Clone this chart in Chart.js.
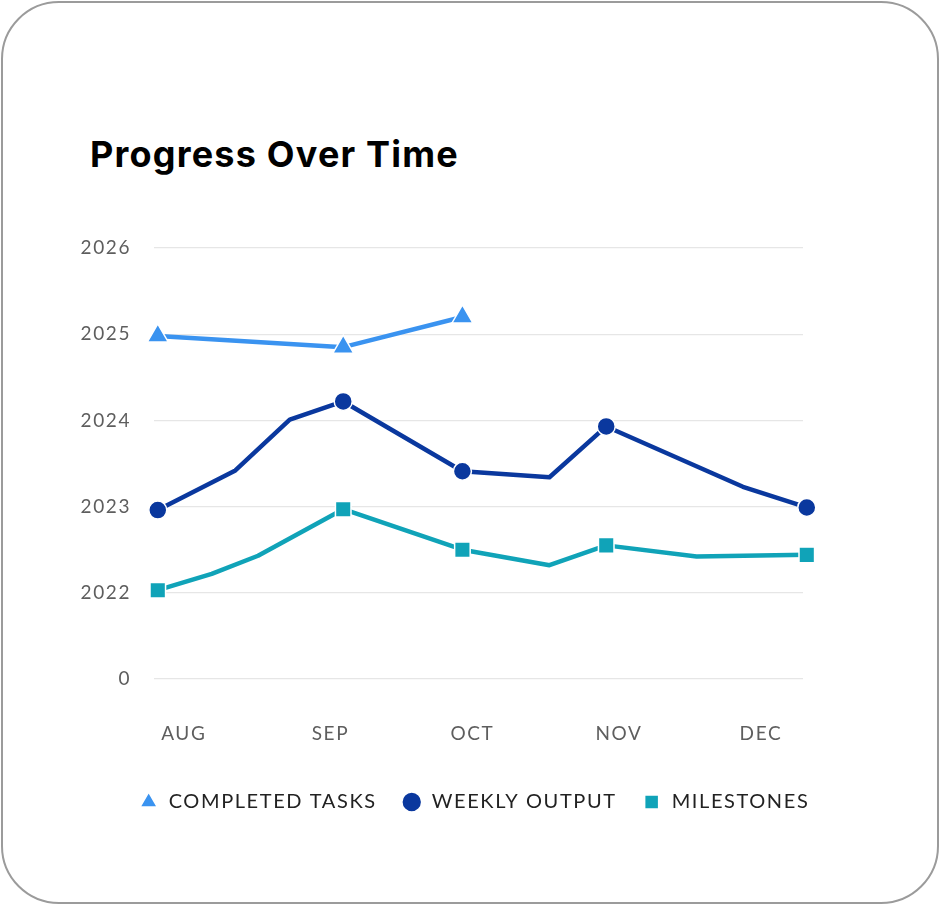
<!DOCTYPE html>
<html><head><meta charset="utf-8">
<script src="https://cdn.jsdelivr.net/npm/chart.js@4.4.1/dist/chart.umd.min.js"></script>
<style>
html,body{margin:0;padding:0;background:#fff;}
#card{position:absolute;left:1px;top:1px;width:934px;height:899px;border:2px solid #9b9b9b;border-radius:58px;}
#title{position:absolute;left:90px;top:136px;font-family:Inter,sans-serif;font-weight:700;font-size:36px;letter-spacing:1.2px;color:#000;margin:0;line-height:1;white-space:nowrap;}
#wrap{position:absolute;left:0;top:0;width:940px;height:905px;}
</style></head>
<body>
<div id="card"></div>
<h1 id="title">Progress Over Time</h1>
<div id="wrap"><canvas id="c"></canvas></div>
<script>
const monthLabels = ['AUG','SEP','OCT','NOV','DEC'];
const monthTickDays = [0, 31, 61, 92, 122];
const yTickLabels = ['0','2022','2023','2024','2025','2026'];
const seriesNames = ['COMPLETED TASKS','WEEKLY OUTPUT','MILESTONES'];
const markerDays = [-5.5, 33.7, 58.9, 89.3, 131.7];
const completedDays = [-5.5, 33.7, 58.9];
const completedValues = [3.98, 3.85, 4.20];
const weeklyDays = [-5.5, 10.9, 22.4, 33.7, 58.9, 77.3, 89.3, 118.2, 131.7];
const weeklyValues = [1.96, 2.42, 3.01, 3.22, 2.41, 2.34, 2.93, 2.23, 1.99];
const milestoneDays = [-5.5, 5.9, 15.7, 33.7, 58.9, 77.3, 89.3, 108.4, 131.7];
const milestoneValues = [1.03, 1.22, 1.43, 1.97, 1.50, 1.32, 1.55, 1.42, 1.44];

const pts = (xs, ys) => xs.map((x, i) => ({x: x, y: ys[i]}));
const markerRadius = r => ctx => (ctx.raw && markerDays.includes(ctx.raw.x)) ? r : 0;

function ds(label, xs, ys, color, style, r) {
  return {
    label: label, data: pts(xs, ys),
    borderColor: color, backgroundColor: color,
    borderWidth: 4.5, borderJoinStyle: 'round', borderCapStyle: 'round', tension: 0,
    pointStyle: style, pointRadius: markerRadius(r), pointHoverRadius: markerRadius(r),
    pointBackgroundColor: color, pointBorderColor: '#ffffff', pointBorderWidth: 1.5,
    clip: false
  };
}

const spacing = {
  id: 'spacing',
  beforeLayout(chart) { chart.ctx.letterSpacing = '1.6px'; },
  beforeDraw(chart) { chart.ctx.letterSpacing = '1.6px'; }
};

const tickFont = {family: 'Lato', size: 19};
const P = 25;

new Chart(document.getElementById('c'), {
  type: 'line',
  data: {
    datasets: [
      ds(seriesNames[0], completedDays, completedValues, '#3a93f0', 'triangle', 12),
      ds(seriesNames[1], weeklyDays, weeklyValues, '#0a389e', 'circle', 9),
      ds(seriesNames[2], milestoneDays, milestoneValues, '#10a3b8', 'rect', 11)
    ]
  },
  plugins: [spacing],
  options: {
    responsive: true, maintainAspectRatio: false, animation: false,
    layout: {padding: {left: 60, right: 52, top: 248, bottom: 83}},
    plugins: {
      tooltip: {enabled: false},
      title: {display: false},
      legend: {
        position: 'bottom', align: 'center',
        labels: {usePointStyle: true, boxHeight: 14, boxWidth: 20, padding: P,
                 color: '#222222', font: {family: 'Lato', size: 20}}
      }
    },
    scales: {
      x: {
        type: 'linear', min: -6.3, max: 130.9,
        afterBuildTicks: a => { a.ticks = monthTickDays.map(v => ({value: v})); },
        afterFit: s => { s.height = 88; },
        ticks: {callback: (v, i) => monthLabels[i], autoSkip: false, maxRotation: 0, padding: 43,
                color: '#5e5e5e', font: tickFont},
        grid: {display: false, drawTicks: false},
        border: {display: false}
      },
      y: {
        min: 0, max: 5,
        afterBuildTicks: a => { a.ticks = yTickLabels.map((_, i) => ({value: i})); },
        afterFit: s => { s.width = 94; },
        ticks: {callback: (v) => yTickLabels[v], padding: 23, color: '#5e5e5e', font: tickFont},
        grid: {color: '#e6e6e6', lineWidth: 1.2, drawTicks: false},
        border: {display: false}
      },
      y2: {
        position: 'right', display: true,
        ticks: {display: false},
        grid: {display: false, drawTicks: false},
        border: {display: false},
        afterFit: s => { s.width = 85; }
      }
    }
  }
});
</script>
</body></html>
